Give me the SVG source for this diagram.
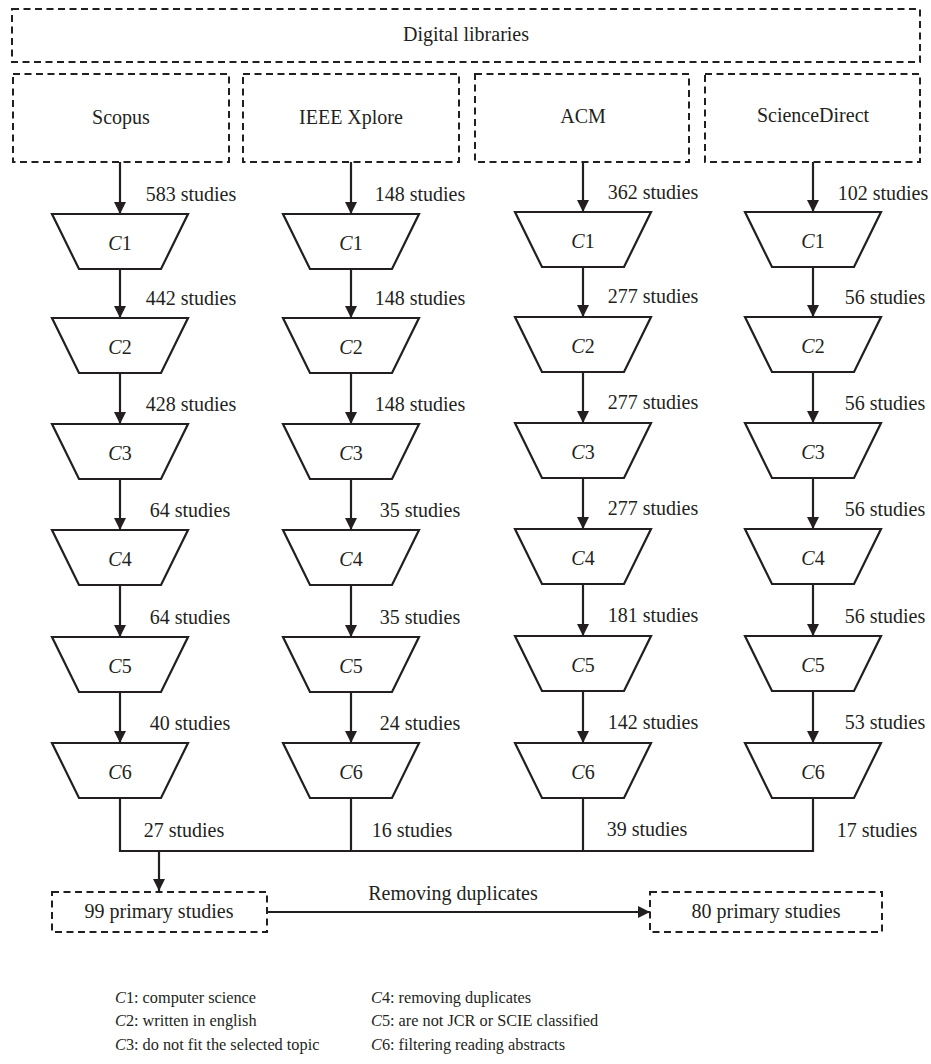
<svg xmlns="http://www.w3.org/2000/svg" width="931" height="1064" viewBox="0 0 931 1064" font-family="'Liberation Serif', 'Times New Roman', serif">
<style>
text{font-family:"Liberation Serif","Times New Roman",serif;fill:#231f20;font-size:20px}
.dash{fill:none;stroke:#231f20;stroke-width:2;stroke-dasharray:7 4.5}
.trap{fill:#fff;stroke:#231f20;stroke-width:2.2;stroke-linejoin:miter}
.ln{fill:none;stroke:#231f20;stroke-width:2.2}
.ar{fill:none;stroke:#231f20;stroke-width:2.2;marker-end:url(#ah)}
.mid{text-anchor:middle}
.lg{font-size:16.3px}
.it{font-style:italic}
</style>
<defs>
<marker id="ah" viewBox="0 0 12 12" refX="12" refY="6" markerWidth="12" markerHeight="12" markerUnits="userSpaceOnUse" orient="auto">
<path d="M0,0 L12,6 L0,12 Z" fill="#231f20"/>
</marker>
<polygon id="tp" points="-68,0 68,0 41,55 -41,55"/>
</defs>

<g id="digital-libraries">
<rect class="dash" x="12" y="9" width="908" height="53"/>
<text class="mid" x="466" y="41">Digital libraries</text>
</g>
<g id="scopus"><rect class="dash" x="13" y="74" width="216" height="88"/><text class="mid" x="121" y="124">Scopus</text></g>
<g id="ieee"><rect class="dash" x="243" y="74" width="216" height="88"/><text class="mid" x="351" y="124">IEEE Xplore</text></g>
<g id="acm"><rect class="dash" x="475" y="74" width="214" height="88"/><text class="mid" x="583" y="123">ACM</text></g>
<g id="sciencedirect"><rect class="dash" x="705" y="74" width="215" height="88"/><text class="mid" x="813" y="122">ScienceDirect</text></g>

<g id="col1">
<g id="c1-1"><use href="#tp" class="trap" x="120" y="214"/><text class="mid" x="120" y="250"><tspan class="it">C</tspan>1</text></g>
<g id="c1-2"><use href="#tp" class="trap" x="120" y="318"/><text class="mid" x="120" y="354"><tspan class="it">C</tspan>2</text></g>
<g id="c1-3"><use href="#tp" class="trap" x="120" y="424"/><text class="mid" x="120" y="460"><tspan class="it">C</tspan>3</text></g>
<g id="c1-4"><use href="#tp" class="trap" x="120" y="530"/><text class="mid" x="120" y="566"><tspan class="it">C</tspan>4</text></g>
<g id="c1-5"><use href="#tp" class="trap" x="120" y="637"/><text class="mid" x="120" y="673"><tspan class="it">C</tspan>5</text></g>
<g id="c1-6"><use href="#tp" class="trap" x="120" y="743"/><text class="mid" x="120" y="779"><tspan class="it">C</tspan>6</text></g>
</g>
<g id="col2">
<g id="c2-1"><use href="#tp" class="trap" x="351" y="214"/><text class="mid" x="351" y="250"><tspan class="it">C</tspan>1</text></g>
<g id="c2-2"><use href="#tp" class="trap" x="351" y="318"/><text class="mid" x="351" y="354"><tspan class="it">C</tspan>2</text></g>
<g id="c2-3"><use href="#tp" class="trap" x="351" y="424"/><text class="mid" x="351" y="460"><tspan class="it">C</tspan>3</text></g>
<g id="c2-4"><use href="#tp" class="trap" x="351" y="530"/><text class="mid" x="351" y="566"><tspan class="it">C</tspan>4</text></g>
<g id="c2-5"><use href="#tp" class="trap" x="351" y="637"/><text class="mid" x="351" y="673"><tspan class="it">C</tspan>5</text></g>
<g id="c2-6"><use href="#tp" class="trap" x="351" y="743"/><text class="mid" x="351" y="779"><tspan class="it">C</tspan>6</text></g>
</g>
<g id="col3">
<g id="c3-1"><use href="#tp" class="trap" x="583" y="212"/><text class="mid" x="583" y="248"><tspan class="it">C</tspan>1</text></g>
<g id="c3-2"><use href="#tp" class="trap" x="583" y="317"/><text class="mid" x="583" y="353"><tspan class="it">C</tspan>2</text></g>
<g id="c3-3"><use href="#tp" class="trap" x="583" y="423"/><text class="mid" x="583" y="459"><tspan class="it">C</tspan>3</text></g>
<g id="c3-4"><use href="#tp" class="trap" x="583" y="529"/><text class="mid" x="583" y="565"><tspan class="it">C</tspan>4</text></g>
<g id="c3-5"><use href="#tp" class="trap" x="583" y="636"/><text class="mid" x="583" y="672"><tspan class="it">C</tspan>5</text></g>
<g id="c3-6"><use href="#tp" class="trap" x="583" y="743"/><text class="mid" x="583" y="779"><tspan class="it">C</tspan>6</text></g>
</g>
<g id="col4">
<g id="c4-1"><use href="#tp" class="trap" x="813" y="212"/><text class="mid" x="813" y="248"><tspan class="it">C</tspan>1</text></g>
<g id="c4-2"><use href="#tp" class="trap" x="813" y="317"/><text class="mid" x="813" y="353"><tspan class="it">C</tspan>2</text></g>
<g id="c4-3"><use href="#tp" class="trap" x="813" y="423"/><text class="mid" x="813" y="459"><tspan class="it">C</tspan>3</text></g>
<g id="c4-4"><use href="#tp" class="trap" x="813" y="529"/><text class="mid" x="813" y="565"><tspan class="it">C</tspan>4</text></g>
<g id="c4-5"><use href="#tp" class="trap" x="813" y="636"/><text class="mid" x="813" y="672"><tspan class="it">C</tspan>5</text></g>
<g id="c4-6"><use href="#tp" class="trap" x="813" y="743"/><text class="mid" x="813" y="779"><tspan class="it">C</tspan>6</text></g>
</g>

<g id="primary99"><rect class="dash" x="52" y="892" width="215" height="40"/><text class="mid" x="159" y="918">99 primary studies</text></g>
<g id="primary80"><rect class="dash" x="650" y="892" width="232" height="40"/><text class="mid" x="766" y="918">80 primary studies</text></g>

<g id="connectors">
<path class="ar" d="M120,162V214"/><path class="ar" d="M120,269V318"/><path class="ar" d="M120,373V424"/><path class="ar" d="M120,479V530"/><path class="ar" d="M120,585V637"/><path class="ar" d="M120,692V743"/>
<path class="ar" d="M351,162V214"/><path class="ar" d="M351,269V318"/><path class="ar" d="M351,373V424"/><path class="ar" d="M351,479V530"/><path class="ar" d="M351,585V637"/><path class="ar" d="M351,692V743"/>
<path class="ar" d="M583,162V212"/><path class="ar" d="M583,267V317"/><path class="ar" d="M583,372V423"/><path class="ar" d="M583,478V529"/><path class="ar" d="M583,584V636"/><path class="ar" d="M583,691V743"/>
<path class="ar" d="M813,162V212"/><path class="ar" d="M813,267V317"/><path class="ar" d="M813,372V423"/><path class="ar" d="M813,478V529"/><path class="ar" d="M813,584V636"/><path class="ar" d="M813,691V743"/>
<path class="ln" d="M120,798V851H813V798M351,798V851M583,798V851"/>
<path class="ar" d="M159,851V891"/>
<path class="ar" d="M267,912H650"/>
<g id="connector-labels">
<text class="mid" x="191" y="201">583 studies</text>
<text class="mid" x="191" y="305">442 studies</text>
<text class="mid" x="191" y="411">428 studies</text>
<text class="mid" x="190" y="517">64 studies</text>
<text class="mid" x="190" y="624">64 studies</text>
<text class="mid" x="190" y="730">40 studies</text>
<text class="mid" x="184" y="837">27 studies</text>
<text class="mid" x="420" y="201">148 studies</text>
<text class="mid" x="420" y="305">148 studies</text>
<text class="mid" x="420" y="411">148 studies</text>
<text class="mid" x="420" y="517">35 studies</text>
<text class="mid" x="420" y="624">35 studies</text>
<text class="mid" x="420" y="730">24 studies</text>
<text class="mid" x="412" y="837">16 studies</text>
<text class="mid" x="653" y="199">362 studies</text>
<text class="mid" x="653" y="303">277 studies</text>
<text class="mid" x="653" y="409">277 studies</text>
<text class="mid" x="653" y="515">277 studies</text>
<text class="mid" x="653" y="622">181 studies</text>
<text class="mid" x="653" y="729">142 studies</text>
<text class="mid" x="647" y="836">39 studies</text>
<text class="mid" x="883" y="200">102 studies</text>
<text class="mid" x="885" y="304">56 studies</text>
<text class="mid" x="885" y="410">56 studies</text>
<text class="mid" x="885" y="516">56 studies</text>
<text class="mid" x="885" y="623">56 studies</text>
<text class="mid" x="885" y="729">53 studies</text>
<text class="mid" x="877" y="837">17 studies</text>
<text class="mid" x="453" y="900">Removing duplicates</text>
</g>
</g>

<g id="legend">
<text class="lg" x="115" y="1003"><tspan class="it">C</tspan>1: computer science</text>
<text class="lg" x="115" y="1026"><tspan class="it">C</tspan>2: written in english</text>
<text class="lg" x="115" y="1050"><tspan class="it">C</tspan>3: do not fit the selected topic</text>
<text class="lg" x="371" y="1003"><tspan class="it">C</tspan>4: removing duplicates</text>
<text class="lg" x="371" y="1026"><tspan class="it">C</tspan>5: are not JCR or SCIE classified</text>
<text class="lg" x="371" y="1050"><tspan class="it">C</tspan>6: filtering reading abstracts</text>
</g>
</svg>
